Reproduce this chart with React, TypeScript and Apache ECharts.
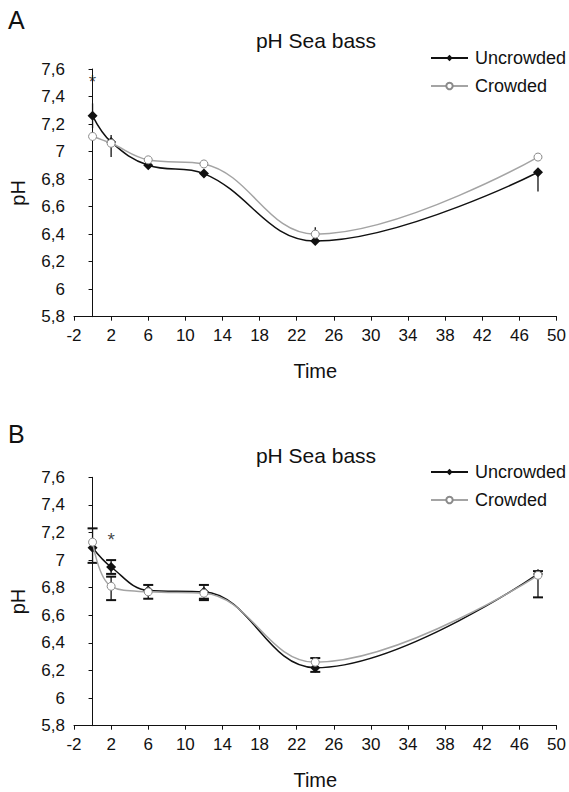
import React, { useEffect, useRef } from "react";
import * as echarts from "echarts";

// ---- Data ----
const times = [0, 2, 6, 12, 24, 48];
const seriesNames = ["Uncrowded", "Crowded"];

// Panel A
const uncrowdedA = [7.26, 7.07, 6.9, 6.84, 6.35, 6.85];
const crowdedA = [7.11, 7.06, 6.94, 6.91, 6.4, 6.96];
const uncrowdedALow = [7.17, 6.96, 6.9, 6.84, 6.33, 6.71];
const uncrowdedAHigh = [7.35, 7.12, 6.9, 6.84, 6.35, 6.85];
const crowdedALow = [7.11, 7.06, 6.94, 6.91, 6.4, 6.96];
const crowdedAHigh = [7.11, 7.06, 6.96, 6.91, 6.45, 6.96];
const starA = [[0, 7.51]];

// Panel B
const uncrowdedB = [7.09, 6.95, 6.78, 6.77, 6.22, 6.9];
const crowdedB = [7.13, 6.81, 6.77, 6.76, 6.26, 6.89];
const uncrowdedBLow = [6.98, 6.9, 6.78, 6.72, 6.19, 6.73];
const uncrowdedBHigh = [7.09, 7.0, 6.82, 6.82, 6.22, 6.9];
const crowdedBLow = [7.13, 6.71, 6.72, 6.71, 6.26, 6.89];
const crowdedBHigh = [7.23, 6.88, 6.77, 6.76, 6.29, 6.92];
const starB = [[2, 7.15]];

// Axes
const xMin = -2;
const xMax = 50;
const xInterval = 4;
const yMin = 5.8;
const yMax = 7.6;
const yInterval = 0.2;

const panelTitle = "pH Sea bass";
const yName = "pH";
const xName = "Time";

const FONT = "Liberation Sans, Arial, Helvetica, sans-serif";

const fmtY = (v: number) => String(+v.toFixed(1)).replace(".", ",");

function errData(vals: number[], lo: number[], hi: number[]) {
  return times.map((t, i) => [t, lo[i], hi[i], vals[i]]);
}

function makeErrSeries(data: number[][], axis: number, caps: boolean) {
  return {
    type: "custom",
    xAxisIndex: axis,
    yAxisIndex: axis,
    silent: true,
    z: 3,
    data,
    renderItem: (params: any, api: any) => {
      const x = api.value(0);
      const lo = api.value(1);
      const hi = api.value(2);
      const v = api.value(3);
      const children: any[] = [];
      const style = { stroke: "#111", lineWidth: 1.3 };
      const pv = api.coord([x, v]);
      const pl = api.coord([x, lo]);
      const ph = api.coord([x, hi]);
      if (lo < v - 1e-9) {
        children.push({ type: "line", shape: { x1: pv[0], y1: pv[1], x2: pl[0], y2: pl[1] }, style });
        if (caps) children.push({ type: "line", shape: { x1: pl[0] - 5, y1: pl[1], x2: pl[0] + 5, y2: pl[1] }, style: { stroke: "#111", lineWidth: 2 } });
      }
      if (hi > v + 1e-9) {
        children.push({ type: "line", shape: { x1: pv[0], y1: pv[1], x2: ph[0], y2: ph[1] }, style });
        if (caps) children.push({ type: "line", shape: { x1: ph[0] - 5, y1: ph[1], x2: ph[0] + 5, y2: ph[1] }, style: { stroke: "#111", lineWidth: 2 } });
      }
      return { type: "group", children };
    },
  };
}

function lineSeries(name: string, vals: number[], axis: number) {
  const unc = name === "Uncrowded";
  return {
    name,
    type: "line",
    xAxisIndex: axis,
    yAxisIndex: axis,
    smooth: 0.4,
    data: times.map((t, i) => [t, vals[i]]),
    symbol: unc ? "diamond" : "circle",
    symbolSize: unc ? 10 : 8,
    z: unc ? 4 : 5,
    lineStyle: { color: unc ? "#111" : "#a4a4a4", width: 1.5 },
    itemStyle: unc
      ? { color: "#111", borderColor: "#111", borderWidth: 0 }
      : { color: "#fff", borderColor: "#8a8a8a", borderWidth: 1 },
  };
}

function starSeries(data: number[][], axis: number) {
  return {
    type: "scatter",
    xAxisIndex: axis,
    yAxisIndex: axis,
    silent: true,
    data,
    symbolSize: 1,
    itemStyle: { color: "rgba(0,0,0,0)" },
    label: { show: true, position: "inside", formatter: "*", fontSize: 19, color: "#111", fontFamily: FONT },
  };
}

function xAxis(grid: number) {
  return {
    type: "value",
    gridIndex: grid,
    min: xMin,
    max: xMax,
    interval: xInterval,
    name: xName,
    nameLocation: "middle",
    nameGap: 44,
    nameTextStyle: { fontSize: 20, color: "#111", fontFamily: FONT },
    axisLine: { show: true, lineStyle: { color: "#111", width: 1 } },
    axisTick: { show: true, length: 4, inside: false, lineStyle: { color: "#111" } },
    axisLabel: { fontSize: 17, color: "#111", margin: 10, fontFamily: FONT },
    splitLine: { show: false },
  };
}

function yAxis(grid: number) {
  return {
    type: "value",
    gridIndex: grid,
    min: yMin,
    max: yMax,
    interval: yInterval,
    name: yName,
    nameLocation: "middle",
    nameGap: 46,
    nameTextStyle: { fontSize: 20, color: "#111", fontFamily: FONT },
    axisLine: { show: true, lineStyle: { color: "#111", width: 1 } },
    axisTick: { show: true, length: 4, inside: false, lineStyle: { color: "#111" } },
    axisLabel: { fontSize: 17, color: "#111", margin: 9, fontFamily: FONT, formatter: fmtY },
    splitLine: { show: false },
  };
}

function legend(top: number) {
  return {
    data: seriesNames,
    orient: "vertical",
    left: 430,
    top,
    padding: 0,
    itemWidth: 37,
    itemHeight: 8,
    itemGap: 10,
    selectedMode: false,
    textStyle: { fontSize: 18, color: "#111", fontFamily: FONT, padding: [0, 0, 0, 2] },
  };
}

export default function App() {
  const ref = useRef<HTMLDivElement>(null);
  useEffect(() => {
    if (!ref.current) return;
    const chart = echarts.init(ref.current, undefined, { renderer: "svg" });
    chart.setOption({
      animation: false,
      backgroundColor: "#fff",
      grid: [
        { left: 72.5, top: 69, width: 485.4, height: 247.7 },
        { left: 72.5, top: 477.3, width: 489.4, height: 248.4 },
      ],
      xAxis: [xAxis(0), xAxis(1)],
      yAxis: [yAxis(0), yAxis(1)],
      legend: [legend(49), legend(463)],
      graphic: [
        { type: "text", left: 8, top: 7, style: { text: "A", fontSize: 25, fill: "#111", fontFamily: FONT } },
        { type: "text", left: 8, top: 421, style: { text: "B", fontSize: 25, fill: "#111", fontFamily: FONT } },
        { type: "text", x: 316, y: 40, style: { text: panelTitle, fontSize: 21, fill: "#111", fontFamily: FONT, textAlign: "center", textVerticalAlign: "middle" } },
        { type: "text", x: 316, y: 455, style: { text: panelTitle, fontSize: 21, fill: "#111", fontFamily: FONT, textAlign: "center", textVerticalAlign: "middle" } },
      ],
      series: [
        lineSeries("Uncrowded", uncrowdedA, 0),
        lineSeries("Crowded", crowdedA, 0),
        makeErrSeries(errData(uncrowdedA, uncrowdedALow, uncrowdedAHigh), 0, false),
        makeErrSeries(errData(crowdedA, crowdedALow, crowdedAHigh), 0, false),
        starSeries(starA, 0),
        lineSeries("Uncrowded", uncrowdedB, 1),
        lineSeries("Crowded", crowdedB, 1),
        makeErrSeries(errData(uncrowdedB, uncrowdedBLow, uncrowdedBHigh), 1, true),
        makeErrSeries(errData(crowdedB, crowdedBLow, crowdedBHigh), 1, true),
        starSeries(starB, 1),
      ],
    });
    return () => chart.dispose();
  }, []);
  return (
    <div
      ref={ref}
      style={{ position: "fixed", left: 0, top: 0, width: 569, height: 792, background: "#fff" }}
    />
  );
}
